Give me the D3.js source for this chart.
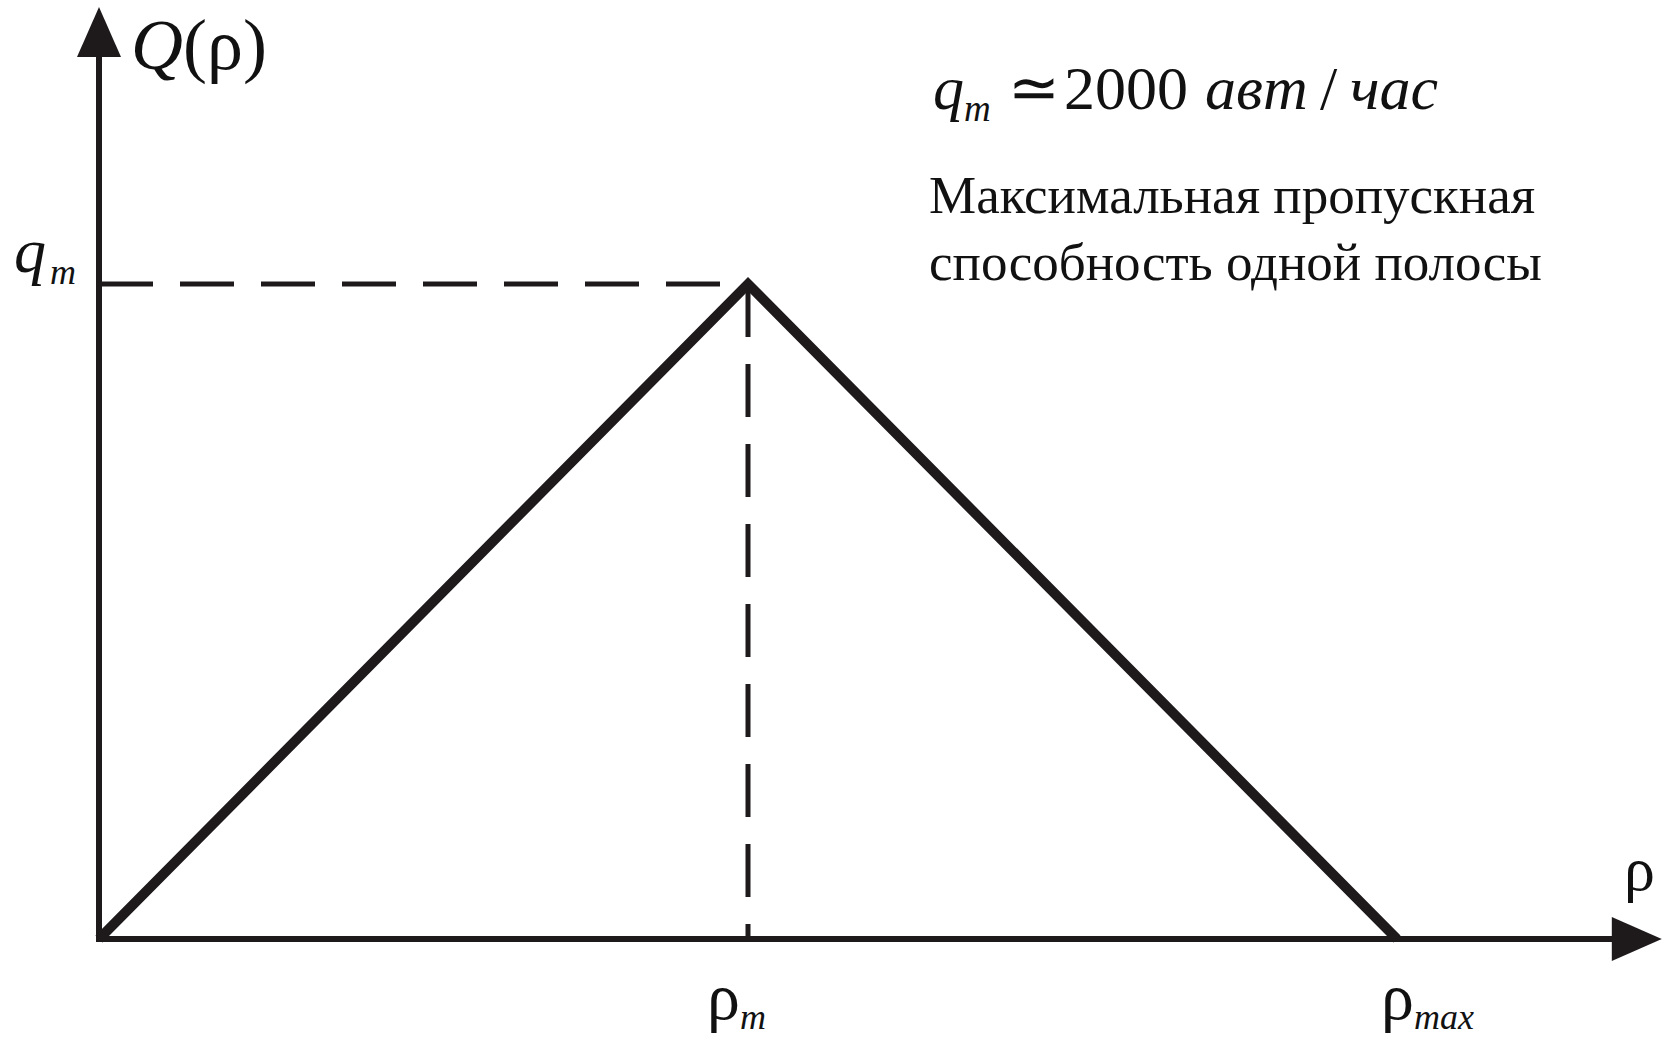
<!DOCTYPE html>
<html>
<head>
<meta charset="utf-8">
<script src="https://cdn.jsdelivr.net/npm/d3@7"></script>
<style>
  html, body { margin: 0; padding: 0; background: #fff; }
  svg { display: block; }
  text { font-family: "Liberation Serif", "Times New Roman", serif; fill: #111; }
</style>
</head>
<body>
<svg id="chart" width="1670" height="1038"></svg>
<script>
// Fundamental diagram: flow Q(ρ) versus density ρ (triangular form)
const densityValues = [0, 1, 2];        // density, in units of ρm
const flowValues = [0, 2000, 0];         // flow, veh/h
const capacityFlow = 2000;               // q_m
const densityTickValues = [1, 2];        // ρm, ρmax
const densityTickSubs = ["m", "max"];
const captionLines = ["Максимальная пропускная", "способность одной полосы"];

const ink = "#1e1a1b";
const svg = d3.select("#chart");

const x = d3.scaleLinear().domain([0, 2]).range([99, 1397]);
const y = d3.scaleLinear().domain([0, capacityFlow]).range([939, 284]);

const xEnd = 2.408;   // arrow tip of the density axis
const yEnd = 2846;    // arrow tip of the flow axis
const arrowLen = 50, arrowHalf = 22;

// axes
svg.append("line")
  .attr("x1", x(0) - 3).attr("y1", y(0))
  .attr("x2", x(xEnd) - arrowLen + 2).attr("y2", y(0))
  .attr("stroke", ink).attr("stroke-width", 6);
svg.append("line")
  .attr("x1", x(0)).attr("y1", y(0) + 3)
  .attr("x2", x(0)).attr("y2", y(yEnd) + arrowLen - 2)
  .attr("stroke", ink).attr("stroke-width", 6);

// arrowheads
svg.append("path")
  .attr("d", `M${x(xEnd)},${y(0)} L${x(xEnd) - arrowLen},${y(0) - arrowHalf} L${x(xEnd) - arrowLen},${y(0) + arrowHalf} Z`)
  .attr("fill", ink);
svg.append("path")
  .attr("d", `M${x(0)},${y(yEnd)} L${x(0) - arrowHalf},${y(yEnd) + arrowLen} L${x(0) + arrowHalf},${y(yEnd) + arrowLen} Z`)
  .attr("fill", ink);

// dashed guides to the peak
svg.append("line")
  .attr("x1", x(0)).attr("y1", y(capacityFlow))
  .attr("x2", x(densityValues[1])).attr("y2", y(capacityFlow))
  .attr("stroke", ink).attr("stroke-width", 5)
  .attr("stroke-dasharray", "54,27");
svg.append("line")
  .attr("x1", x(densityValues[1])).attr("y1", y(capacityFlow))
  .attr("x2", x(densityValues[1])).attr("y2", y(0) - 3)
  .attr("stroke", ink).attr("stroke-width", 5)
  .attr("stroke-dasharray", "53,27");

// the triangular Q(ρ) curve
const line = d3.line().x((d, i) => x(densityValues[i])).y(d => y(d));
svg.append("path")
  .attr("d", line(flowValues))
  .attr("fill", "none")
  .attr("stroke", ink).attr("stroke-width", 10)
  .attr("stroke-linejoin", "miter");

// axis titles
const qTitle = svg.append("text").attr("x", 131).attr("y", 69).attr("font-size", 72);
qTitle.append("tspan").attr("font-style", "italic").text("Q");
qTitle.append("tspan").text("(ρ)");

svg.append("text").attr("x", 1624).attr("y", 890).attr("font-size", 62).text("ρ");

// q_m label on the flow axis
const qm = svg.append("text").attr("x", 14).attr("y", y(capacityFlow) - 12).attr("font-size", 64)
  .attr("font-style", "italic");
qm.append("tspan").text("q");
qm.append("tspan").attr("font-size", 36).attr("dy", 12).attr("dx", 4).text("m");

// density ticks ρm, ρmax
densityTickValues.forEach((v, i) => {
  const t = svg.append("text").attr("x", x(v) - 41 + (i === 1 ? 25 : 0)).attr("y", 1019).attr("font-size", 66);
  t.append("tspan").text("ρ");
  t.append("tspan").attr("font-size", 36).attr("font-style", "italic").attr("dy", 10).text(densityTickSubs[i]);
});

// capacity note
const note = svg.append("text").attr("x", 933).attr("y", 109).attr("font-size", 62);
note.append("tspan").attr("font-style", "italic").text("q");
note.append("tspan").attr("font-style", "italic").attr("font-size", 37).attr("dy", 12).text("m");
note.append("tspan").attr("x", 1008).attr("dy", -12).text("≃");
note.append("tspan").attr("x", 1064).text(capacityFlow);
note.append("tspan").attr("x", 1205).attr("font-style", "italic").text("авт");
note.append("tspan").attr("x", 1320).text("/");
note.append("tspan").attr("x", 1350).attr("font-style", "italic").text("час");

svg.selectAll(".caption").data(captionLines).enter().append("text")
  .attr("class", "caption")
  .attr("x", 929).attr("y", (d, i) => 213 + i * 67)
  .attr("font-size", 53)
  .text(d => d);
</script>
</body>
</html>
